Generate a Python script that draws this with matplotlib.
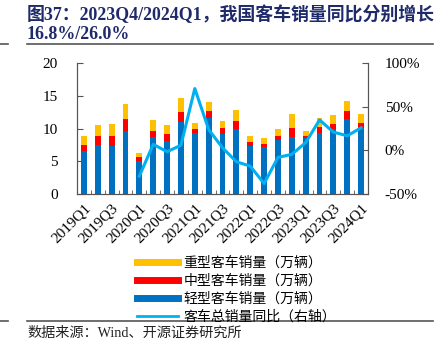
import numpy as np
import matplotlib.pyplot as plt
from matplotlib.lines import Line2D

plt.rcParams['font.family'] = ['Liberation Serif', 'Noto Sans CJK SC']

quarters = ['2019Q1', '2019Q2', '2019Q3', '2019Q4',
            '2020Q1', '2020Q2', '2020Q3', '2020Q4',
            '2021Q1', '2021Q2', '2021Q3', '2021Q4',
            '2022Q1', '2022Q2', '2022Q3', '2022Q4',
            '2023Q1', '2023Q2', '2023Q3', '2023Q4', '2024Q1']

# 万辆
light = [6.6, 7.5, 7.3, 9.7, 5.1, 8.7, 8.1, 11.0, 9.3, 11.6, 9.2,
         9.9, 7.4, 7.2, 8.2, 8.7, 8.55, 9.3, 10.0, 11.5, 10.1]
medium = [0.9, 1.3, 1.65, 1.8, 0.5, 1.0, 1.1, 1.6, 0.7, 1.1, 0.9,
          1.3, 0.5, 0.5, 0.75, 1.4, 0.4, 0.9, 0.7, 1.2, 0.8]
heavy = [1.45, 1.8, 1.75, 2.3, 0.7, 1.65, 1.4, 2.1, 0.9, 1.4, 1.0,
         1.6, 1.0, 0.9, 1.05, 2.2, 0.75, 1.5, 1.35, 1.6, 1.3]
# 同比, %
yoy = [np.nan, np.nan, np.nan, np.nan, -29.5, 7.0, -1.5, 6.0,
       71.0, 24.0, 3.0, -13.0, -18.0, -38.0, -8.0, -4.5,
       9.0, 35.0, 21.0, 16.8, 26.0]

c_light = '#0070C0'
c_med = '#FF0000'
c_heavy = '#FFC000'
c_line = '#00B0F0'
navy = '#1F2A6B'

fig = plt.figure(figsize=(4.41, 3.51), dpi=100)
ax = fig.add_axes([0.1746, 0.4473, 0.66, 0.3724])

x = np.arange(len(quarters))
light = np.array(light)
medium = np.array(medium)
heavy = np.array(heavy)
w = 0.42
ax.bar(x, light, w, color=c_light, zorder=2)
ax.bar(x, medium, w, bottom=light, color=c_med, zorder=2)
ax.bar(x, heavy, w, bottom=light + medium, color=c_heavy, zorder=2)

ax.set_xlim(-0.5, len(quarters) - 0.5)
ax.set_ylim(0, 20)
ax.set_yticks([0, 5, 10, 15, 20])
ax.set_xticks(x[::2])
ax.set_xticklabels(quarters[::2], rotation=45, ha='right', rotation_mode='anchor')
ax.set_xticks(np.arange(-0.5, len(quarters), 1), minor=True)
ax.tick_params(axis='x', which='major', length=0, pad=5, labelsize=11)
ax.tick_params(axis='x', which='minor', direction='in', length=3, color='#555555')
ax.tick_params(axis='y', direction='in', length=4, labelsize=11, pad=14, color='#555555')

ax2 = ax.twinx()
ax2.plot(x, yoy, color=c_line, lw=2.2, zorder=3)
ax2.set_ylim(-50, 100)
ax2.set_yticks([-50, 0, 50, 100])
ax2.set_yticklabels(['-50%', '0%', '50%', '100%'])
ax2.tick_params(axis='y', direction='in', length=4, labelsize=11, pad=12, color='#555555')

for a in (ax, ax2):
    a.spines['top'].set_visible(False)
    for s in ('left', 'right', 'bottom'):
        a.spines[s].set_color('#555555')

handles = [Line2D([], [], color=c_heavy, lw=5),
           Line2D([], [], color=c_med, lw=5),
           Line2D([], [], color=c_light, lw=5),
           Line2D([], [], color=c_line, lw=2)]
labels = ['重型客车销量（万辆）', '中型客车销量（万辆）',
          '轻型客车销量（万辆）', '客车总销量同比（右轴）']
fig.legend(handles, labels, loc='upper left', bbox_to_anchor=(0.31, 0.27),
           frameon=False, fontsize=10, handlelength=3.0, handletextpad=0.35,
           labelspacing=0.33, borderaxespad=0, borderpad=0)

fig.text(0.06, 0.958, '图37：2023Q4/2024Q1，我国客车销量同比分别增长',
         fontsize=12.9, fontweight='bold', color=navy, ha='left', va='center')
fig.text(0.06, 0.903, '16.8%/26.0%', fontsize=12.9, fontweight='bold',
         color=navy, ha='left', va='center')

for yy in (1 - 44 / 351, 1 - 321 / 351):
    fig.add_artist(Line2D([27 / 441, 433 / 441], [yy, yy], color='#555555', lw=1.2))
    fig.add_artist(Line2D([0, 8 / 441], [yy, yy], color='#555555', lw=1.2))

fig.text(27 / 441, 1 - 333 / 351, '数据来源：Wind、开源证券研究所',
         fontsize=10.2, color='#222222', ha='left', va='center')

fig.savefig('out.png', dpi=100)
